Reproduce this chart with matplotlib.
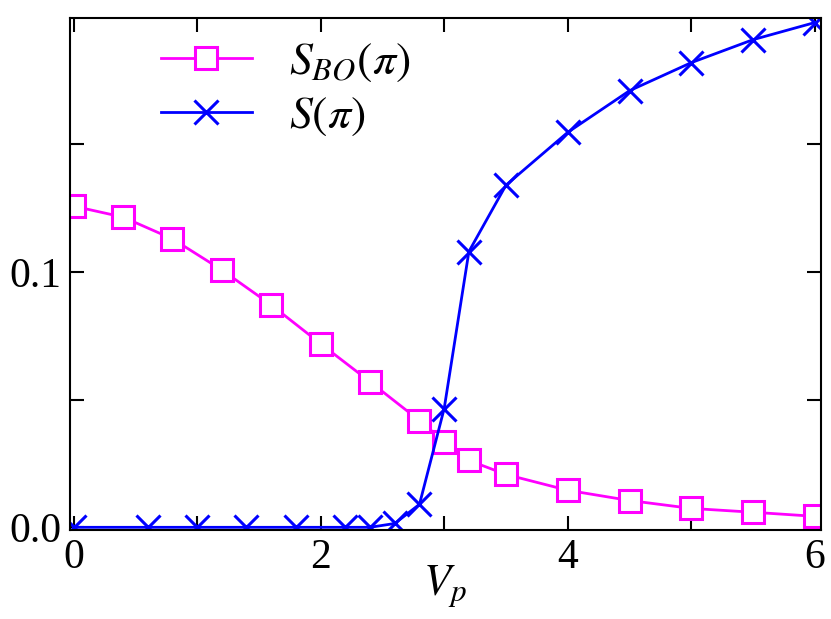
import matplotlib
matplotlib.use("Agg")
import matplotlib.pyplot as plt

plt.rcParams["font.family"] = "Liberation Serif"
plt.rcParams["mathtext.fontset"] = "stix"

vp_bo = [0.0, 0.4, 0.8, 1.2, 1.6, 2.0, 2.4, 2.8, 3.0, 3.2, 3.5, 4.0, 4.5, 5.0, 5.5, 6.0]
s_bo = [0.1258, 0.1215, 0.1130, 0.1008, 0.0871, 0.0719, 0.0570, 0.0418,
        0.0336, 0.0262, 0.0207, 0.0145, 0.0105, 0.0074, 0.0059, 0.0043]

vp_s = [0.0, 0.6, 1.0, 1.4, 1.8, 2.2, 2.4, 2.6, 2.8, 3.0, 3.2, 3.5, 4.0, 4.5, 5.0, 5.5, 6.0]
s_pi = [0.0, 0.0, 0.0, 0.0, 0.0, 0.0, 0.0, 0.0015, 0.009, 0.0465, 0.108,
        0.134, 0.1547, 0.171, 0.182, 0.191, 0.1977]

x_ticks = [0, 1, 2, 3, 4, 5, 6]
x_labels = ["0", "", "2", "", "4", "", "6"]
y_ticks = [0.0, 0.05, 0.1, 0.15]
y_labels = ["0.0", "", "0.1", ""]

fig = plt.figure(figsize=(8.31, 6.19), dpi=100)
ax = fig.add_axes([0.084, 0.144, 0.904, 0.827])

ax.plot(vp_bo, s_bo, color="magenta", lw=2.0, marker="s", ms=16,
        mfc="white", mec="magenta", mew=2.2, label=r"$S_{BO}(\pi)$")
ax.plot(vp_s, s_pi, color="blue", lw=2.0, marker="x", ms=17,
        mew=2.2, label=r"$S(\pi)$")

ax.set_xlim(-0.03, 6.05)
ax.set_ylim(-0.001, 0.1995)
ax.set_xticks(x_ticks)
ax.set_xticklabels(x_labels)
ax.set_yticks(y_ticks)
ax.set_yticklabels(y_labels)
ax.tick_params(direction="in", length=10, width=1.5, top=True, right=True,
               labelsize=30, pad=6)
for sp in ax.spines.values():
    sp.set_linewidth(1.5)

ax.set_xlabel(r"$V_p$", fontsize=32, labelpad=-10)

ax.legend(loc="upper left", bbox_to_anchor=(0.066, 1.035), frameon=False,
          fontsize=33, handlelength=2.0, handletextpad=0.8, labelspacing=0.25)

fig.savefig("out.png", dpi=100)
